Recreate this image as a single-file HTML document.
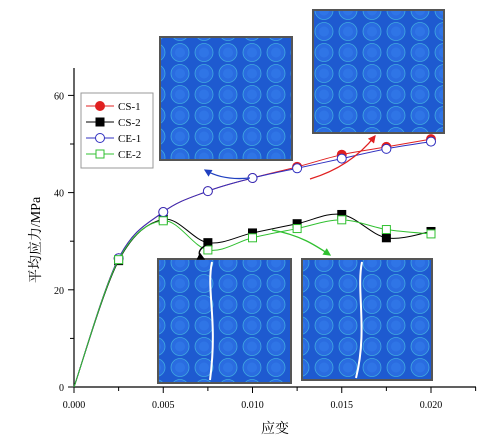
<!DOCTYPE html>
<html><head><meta charset="utf-8"><style>
body{margin:0;background:#fff}
svg{display:block;font-family:"Liberation Serif","Noto Serif CJK SC",serif}
</style></head><body>
<svg id="c" width="493" height="435" viewBox="0 0 493 435">
<defs>
<pattern id="cells" width="24" height="21" patternUnits="userSpaceOnUse">
<rect width="24" height="21" fill="#1e5ad0"/>
<circle cx="12" cy="10.5" r="9" fill="#2a6ce0" stroke="#3fa8e0" stroke-width="0.8"/>
<circle cx="12" cy="10.5" r="5" fill="#2f75e6"/>
</pattern>
<marker id="ab" markerWidth="6" markerHeight="6" refX="5" refY="3" orient="auto"><path d="M0,0L6,3L0,6z" fill="#2040c0"/></marker>
<marker id="ar" markerWidth="6" markerHeight="6" refX="5" refY="3" orient="auto"><path d="M0,0L6,3L0,6z" fill="#e02020"/></marker>
<marker id="ag" markerWidth="6" markerHeight="6" refX="5" refY="3" orient="auto"><path d="M0,0L6,3L0,6z" fill="#30c030"/></marker>
<marker id="ak" markerWidth="6" markerHeight="6" refX="5" refY="3" orient="auto"><path d="M0,0L6,3L0,6z" fill="#000"/></marker>
</defs>
<g id="axes"></g>
<g id="insets">
<rect x="160" y="37" width="132" height="123" fill="url(#cells)" stroke="#555" stroke-width="2"/>
<rect x="313" y="10" width="131" height="123" fill="url(#cells)" stroke="#555" stroke-width="2"/>
<rect x="158" y="259" width="133" height="124" fill="url(#cells)" stroke="#555" stroke-width="2"/>
<rect x="302" y="259" width="130" height="121" fill="url(#cells)" stroke="#555" stroke-width="2"/>
<path d="M212,262 C206,290 218,320 210,380" stroke="#fff" stroke-width="2" fill="none"/>
<path d="M362,262 C356,290 368,330 356,378" stroke="#fff" stroke-width="2" fill="none"/>
</g>
<g id="series"></g>
<g id="arrows">
<path d="M250,178 C230,180 215,176 205,170" stroke="#2040c0" fill="none" stroke-width="1.3" marker-end="url(#ab)"/>
<path d="M310,179 C340,170 360,155 375,136" stroke="#e02020" fill="none" stroke-width="1.3" marker-end="url(#ar)"/>
<path d="M208,244 C196,250 198,256 204,259" stroke="#000" fill="none" stroke-width="1.3" marker-end="url(#ak)"/>
<path d="M272,230 C300,235 315,245 330,255" stroke="#30c030" fill="none" stroke-width="1.3" marker-end="url(#ag)"/>
</g>
<g id="legend">
<rect x="81" y="93" width="72" height="75" fill="#fff" stroke="#999"/>
</g>
</svg>
<script>
const strain=[0,0.0025,0.005,0.0075,0.01,0.0125,0.015,0.0175,0.02];
const cs1=[0,26.5,36,40.3,43,45.3,47.8,49.4,51];
const cs2=[0,26,34.5,29.7,31.7,33.6,35.5,30.7,32];
const ce1=[0,26.5,36,40.3,43,45,47,49,50.5];
const ce2=[0,26.2,34.2,28.2,30.7,32.6,34.4,32.4,31.5];
const xTicks=["0.000","0.005","0.010","0.015","0.020"];
const yTicks=[0,20,40,60];
const names=["CS-1","CS-2","CE-1","CE-2"];
const NS="http://www.w3.org/2000/svg";
const X=v=>74+v/0.005*89.25, Y=v=>387-v*4.86;
function mk(t,a,p){const e=document.createElementNS(NS,t);for(const k in a)e.setAttribute(k,a[k]);(p||document.getElementById('c')).appendChild(e);return e;}
function smooth(pts){let d='M'+pts[0][0]+','+pts[0][1];for(let i=0;i<pts.length-1;i++){const p0=pts[Math.max(0,i-1)],p1=pts[i],p2=pts[i+1],p3=pts[Math.min(pts.length-1,i+2)];
const c1=[p1[0]+(p2[0]-p0[0])/6,p1[1]+(p2[1]-p0[1])/6],c2=[p2[0]-(p3[0]-p1[0])/6,p2[1]-(p3[1]-p1[1])/6];
d+=' C'+c1[0]+','+c1[1]+' '+c2[0]+','+c2[1]+' '+p2[0]+','+p2[1];}return d;}
const ax=document.getElementById('axes');
let l=mk('line',{x1:74,y1:387,x2:476,y2:387,stroke:'#000','stroke-width':1.2},ax);


l=mk('line',{x1:74,y1:387,x2:74,y2:68,stroke:'#000','stroke-width':1.2},ax);


for(let i=0;i<=9;i++){const x=X(i*0.0025);mk('line',{x1:x,y1:387,x2:x,y2:i%2?391:393,stroke:'#000'},ax);}
xTicks.forEach((t,i)=>{const e=mk('text',{x:X(i*0.005),y:408,'font-size':10,'text-anchor':'middle'},ax);e.textContent=t;

});
for(let v=0;v<=60;v+=10){mk('line',{x1:74,y1:Y(v),x2:v%20?70:68,y2:Y(v),stroke:'#000'},ax);}
yTicks.forEach(v=>{const e=mk('text',{x:64,y:Y(v)+4,'font-size':10,'text-anchor':'end'},ax);e.textContent=v;

});
let t=mk('text',{x:275,y:433,'font-size':14,'text-anchor':'middle'},ax);t.textContent='应变';


t=mk('text',{x:40,y:240,'font-size':14,'text-anchor':'middle',transform:'rotate(-90 40 240)'},ax);t.textContent='平均应力/MPa';


const defs=[[cs1,'#e02020','circle',true],[cs2,'#000','square',true],[ce1,'#3030c0','circle',false],[ce2,'#30c030','square',false]];
const sg=document.getElementById('series'), lg=document.getElementById('legend');
function marker(g,type,c,fill,x,y){if(type==='circle')return mk('circle',{cx:x,cy:y,r:4.5,fill:fill?c:'#fff',stroke:c},g);return mk('rect',{x:x-4,y:y-4,width:8,height:8,fill:fill?c:'#fff',stroke:c},g);}
defs.forEach((d,k)=>{const [vals,c,type,fill]=d;
const p=mk('path',{d:smooth(vals.map((v,i)=>[X(strain[i]),Y(v)])),fill:'none',stroke:c,'stroke-width':1},sg);


vals.forEach((v,i)=>{if(i===0)return;const m=marker(sg,type,c,fill,X(strain[i]),Y(v));

});
const ly=106+k*16;
mk('line',{x1:86,y1:ly,x2:114,y2:ly,stroke:c},lg);
const lm=marker(lg,type,c,fill,100,ly);


const tx=mk('text',{x:118,y:ly+4,'font-size':11},lg);tx.textContent=names[k];

});
</script>
</body></html>
